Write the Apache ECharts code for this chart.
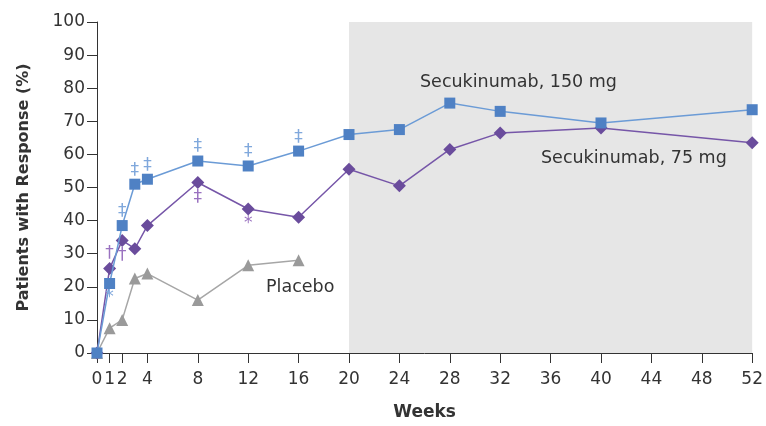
<!DOCTYPE html>
<html>
<head>
<meta charset="utf-8">
<script src="https://cdn.jsdelivr.net/npm/echarts@6/dist/echarts.min.js"></script>
<style>
html,body{margin:0;padding:0;background:#fff;}
#main{width:766px;height:426px;}
</style>
</head>
<body>
<div id="main"></div>
<script>
// weeks and responses
var weeks = [0, 1, 2, 3, 4, 8, 12, 16, 20, 24, 28, 32, 40, 52];
var sec150 = [0, 21, 38.5, 51, 52.5, 58, 56.5, 61, 66, 67.5, 75.5, 73, 69.5, 73.5];
var sec75 = [0, 25.5, 34, 31.5, 38.5, 51.5, 43.5, 41, 55.5, 50.5, 61.5, 66.5, 68, 63.5];
var placeboWeeks = [0, 1, 2, 3, 4, 8, 12, 16];
var placebo = [0, 7.5, 10, 22.5, 24, 16, 26.5, 28];
var weekTicks = [0, 1, 2, 4, 8, 12, 16, 20, 24, 28, 32, 36, 40, 44, 48, 52];
// significance symbols: week -> [glyph, side]
var sec150Signif = {1: ['*', 'bottom'], 2: ['‡', 'top'], 3: ['‡', 'top'], 4: ['‡', 'top'], 8: ['‡', 'top'], 12: ['‡', 'top'], 16: ['‡', 'top']};
var sec75Signif = {1: ['†', 'top'], 2: ['†', 'bottom'], 8: ['‡', 'bottom'], 12: ['*', 'bottom']};

var txt = '#333';
var font = 'DejaVu Sans';

function build(xs, ys, signif, col) {
    return xs.map(function (w, i) {
        var item = {value: [w, ys[i]]};
        if (signif && signif[w]) {
            item.label = {
                show: true,
                formatter: signif[w][0],
                position: signif[w][1],
                distance: 0,
                color: col,
                fontSize: 17,
                fontFamily: font
            };
        }
        return item;
    });
}

var myChart = echarts.init(document.getElementById('main'));
var option = {
    animation: false,
    textStyle: {fontFamily: font},
    grid: {left: 97, right: 10, top: 22, bottom: 72},
    xAxis: {
        type: 'value',
        min: 0,
        max: 52,
        interval: 4,
        name: 'Weeks',
        nameLocation: 'middle',
        nameGap: 51,
        nameTextStyle: {color: txt, fontSize: 17, fontWeight: 'bold', fontFamily: font},
        axisLine: {show: true, lineStyle: {color: '#333', width: 1}},
        axisTick: {show: true, length: 10, lineStyle: {color: '#333'}, customValues: weekTicks},
        axisLabel: {color: txt, fontSize: 17, margin: 18, customValues: weekTicks},
        splitLine: {show: false}
    },
    yAxis: {
        type: 'value',
        min: 0,
        max: 100,
        interval: 10,
        name: 'Patients with Response (%)',
        nameLocation: 'middle',
        nameRotate: 90,
        nameGap: 65,
        nameTextStyle: {color: txt, fontSize: 16, fontWeight: 'bold', fontFamily: font},
        axisLine: {show: true, lineStyle: {color: '#333', width: 1}},
        axisTick: {show: true, length: 10, lineStyle: {color: '#333'}},
        axisLabel: {color: txt, fontSize: 17, margin: 12},
        splitLine: {show: false}
    },
    series: [{
        name: 'Placebo',
        type: 'line',
        clip: false,
        symbol: 'triangle',
        symbolSize: 12,
        data: build(placeboWeeks, placebo, null),
        lineStyle: {color: '#a6a6a6', width: 1.5},
        itemStyle: {color: '#9a9a9a'},
        markArea: {
            silent: true,
            itemStyle: {color: '#e6e6e6'},
            data: [[{xAxis: 20}, {xAxis: 52}]]
        },
        z: 3
    }, {
        name: 'Secukinumab, 75 mg',
        type: 'line',
        clip: false,
        symbol: 'diamond',
        symbolSize: 13,
        data: build(weeks, sec75, sec75Signif, '#9a72c0'),
        lineStyle: {color: '#7656a8', width: 1.5},
        itemStyle: {color: '#6a4c9c'},
        z: 4
    }, {
        name: 'Secukinumab, 150 mg',
        type: 'line',
        clip: false,
        symbol: 'rect',
        symbolSize: 11,
        data: build(weeks, sec150, sec150Signif, '#80a8dc'),
        lineStyle: {color: '#6b9bd6', width: 1.5},
        itemStyle: {color: '#4f81c4'},
        z: 5
    }],
    graphic: [
        {type: 'text', z: 100, left: 420, top: 73, style: {text: 'Secukinumab, 150 mg', fill: txt, font: '17.5px "DejaVu Sans"'}},
        {type: 'text', z: 100, left: 541, top: 149, style: {text: 'Secukinumab, 75 mg', fill: txt, font: '17.5px "DejaVu Sans"'}},
        {type: 'text', z: 100, left: 266, top: 278, style: {text: 'Placebo', fill: txt, font: '17.5px "DejaVu Sans"'}}
    ]
};
myChart.setOption(option);
window.addEventListener("resize", function () {
    myChart.resize();
});
</script>
</body>
</html>
